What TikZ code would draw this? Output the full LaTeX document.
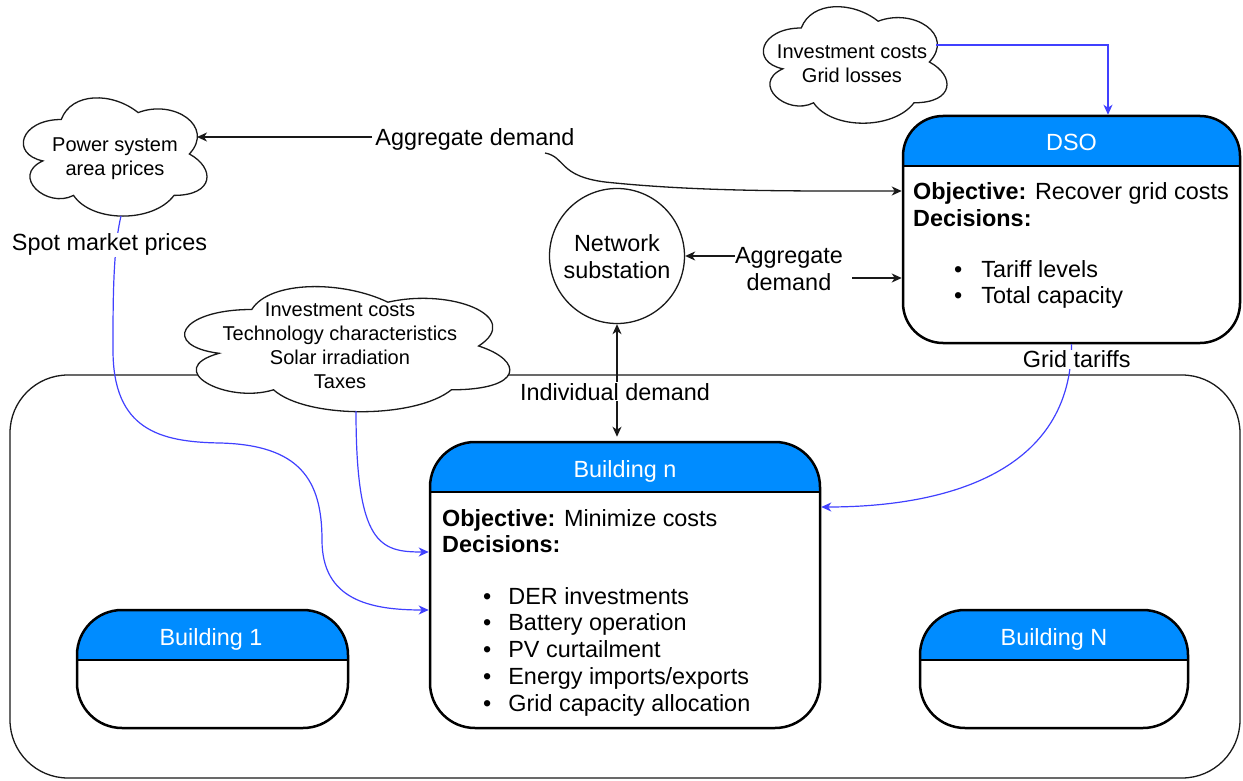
\documentclass[tikz,border=0pt]{standalone}
\usepackage{fontspec}
\setmainfont{Liberation Sans}
\usetikzlibrary{arrows.meta,calc}
\definecolor{hdr}{RGB}{0,140,255}
\definecolor{blu}{RGB}{64,64,255}
\definecolor{edge}{RGB}{25,25,25}
\newcommand\drawcloud[4]{%
\begin{scope}[shift={(#1,#2)},xscale=#3,yscale=#4]
\draw[cloudline] (0.25,0.25) .. controls (0.05,0.25) and (0,0.5) .. (0.16,0.55)
 .. controls (0,0.66) and (0.18,0.9) .. (0.31,0.8)
 .. controls (0.4,1) and (0.7,1) .. (0.8,0.8)
 .. controls (1,0.8) and (1,0.6) .. (0.875,0.5)
 .. controls (1,0.3) and (0.8,0.1) .. (0.625,0.2)
 .. controls (0.5,0.05) and (0.3,0.05) .. (0.25,0.25) -- cycle;
\end{scope}}
\begin{document}
\begin{tikzpicture}[x=1pt,y=-1pt,
  body/.style={font=\fontsize{23.4}{26.8}\selectfont},
  small/.style={font=\fontsize{20}{24.3}\selectfont},
  cloudline/.style={draw=edge,line width=1.3pt,fill=white},
  tip/.style={},
  barr/.style={draw=edge,line width=1.3pt,-{Stealth[length=10pt,width=9pt,inset=3pt]}},
  bboth/.style={draw=edge,line width=1.3pt,{Stealth[length=10pt,width=9pt,inset=3pt]}-{Stealth[length=10pt,width=9pt,inset=3pt]}},
  bl/.style={draw=blu,line width=1.2pt,-{Stealth[length=10pt,width=9pt,inset=3pt]}},
  hbox/.style={draw=black,line width=2.5pt,fill=white,rounded corners=#1,inner sep=0pt,
    path picture={
      \fill[hdr,sharp corners] (path picture bounding box.north west) rectangle ([yshift=-50pt]path picture bounding box.north east);
      \draw[line width=2.5pt,sharp corners] ([yshift=-50pt]path picture bounding box.north west) -- ([yshift=-50pt]path picture bounding box.north east);}},
  lbl/.style={body,fill=white,inner sep=1pt,anchor=base}]
\useasboundingbox (0,0) rectangle (1243,781);

% outer container
\node[draw=edge,line width=1.3pt,rounded corners=58pt,minimum width=1230pt,minimum height=403pt,inner sep=0pt] (outer) at (625,576.5) {};

% clouds
\drawcloud{10}{85}{205}{138}
\drawcloud{750}{-6}{205}{136}
\drawcloud{161}{273}{363}{146}
\node[small,anchor=base,inner sep=0pt] (pwT) at (115,151.5) {\begin{tabular}[t]{@{}c@{}}Power system\\area prices\end{tabular}};
\node[small,anchor=base,inner sep=0pt] (invT) at (852,58.3) {\begin{tabular}[t]{@{}c@{}}Investment costs\\Grid losses\end{tabular}};
\node[small,anchor=base,inner sep=0pt] (techT) at (340,316) {\begin{tabular}[t]{@{}c@{}}Investment costs\\Technology characteristics\\Solar irradiation\\Taxes\end{tabular}};
\coordinate (pwR) at (197,137);
\coordinate (pwB) at (121,216);
\coordinate (inv2R) at (936,45);
\coordinate (techB) at (356,411);

% boxes
\node[hbox=40pt,minimum width=337pt,minimum height=227pt] (dso) at (1071.5,229.5) {};
\node[hbox=45pt,minimum width=390pt,minimum height=286pt] (bn) at (625,585) {};
\node[hbox=45pt,minimum width=271pt,minimum height=118pt] (b1) at (212.5,669) {};
\node[hbox=45pt,minimum width=268pt,minimum height=118pt] (bN) at (1054,669) {};

\node[body,text=white,anchor=base,inner sep=0pt] (dsoT) at (1071.5,151) {DSO};
\node[body,anchor=base west,inner sep=0pt] (dsoB) at (913,200) {\begin{tabular}[t]{@{}l@{}}\textbf{Objective:} Recover grid costs\\\textbf{Decisions:}\end{tabular}};
\node[body,anchor=base west,inner sep=0pt] (dsoL) at (954,277) {\begin{tabular}[t]{@{}l@{\hspace{19pt}}l@{}}•&Tariff levels\\•&Total capacity\end{tabular}};

\node[body,text=white,anchor=base,inner sep=0pt] (bnT) at (625,477) {Building n};
\node[body,anchor=base west,inner sep=0pt] (bnB) at (442,526) {\begin{tabular}[t]{@{}l@{}}\textbf{Objective:} Minimize costs\\\textbf{Decisions:}\end{tabular}};
\node[body,anchor=base west,inner sep=0pt] (bnL) at (483,604) {\begin{tabular}[t]{@{}l@{\hspace{17pt}}l@{}}•&DER investments\\•&Battery operation\\•&PV curtailment\\•&Energy imports/exports\\•&Grid capacity allocation\end{tabular}};

\node[body,text=white,anchor=base,inner sep=0pt] (b1T) at (211,645) {Building 1};
\node[body,text=white,anchor=base,inner sep=0pt] (bNT) at (1054,645) {Building N};

% substation
\node[draw=edge,circle,line width=1.3pt,minimum size=135pt,inner sep=0pt] (sub) at (617,256) {};
\node[body,anchor=base,inner sep=0pt] (subT) at (617,251.7) {\begin{tabular}[t]{@{}c@{}}Network\\substation\end{tabular}};

% black connectors
\node[body,anchor=base,inner sep=0pt] (aggT) at (475,146) {Aggregate demand};
\coordinate (agl) at (372,137);
\coordinate (agc) at (545,153);
\draw[barr] (agl) -- (pwR);
\draw[barr] (agc) .. controls (566,157) and (558,176) .. (605,182) .. controls (700,192) and (800,191) .. (dso.west |- 0,191);

\node[body,anchor=base,inner sep=0pt] (agg2) at (789,263.3) {\begin{tabular}[t]{@{}c@{}}Aggregate\\demand\end{tabular}};
\coordinate (a2l) at (735,256);
\coordinate (a2r) at (852,278);
\draw[barr] (a2l) -- (sub.east);
\draw[barr] (a2r) -- (a2r -| dso.west);

\draw[bboth,shorten >=4pt] (sub.south) -- (sub.south |- bn.north);
\node[lbl] (ind) at (615,400) {Individual demand};

% blue connectors
\draw[bl] (inv2R) -| ([xshift=36.5pt]dso.north);
\draw[bl] (dso.south) .. controls (1072,470) and (950,507) .. ([yshift=78pt]bn.east);
\draw[bl] (techB) .. controls (356,545) and (380,552) .. ([yshift=33pt]bn.west);
\draw[bl] (pwB) .. controls (113,250) and (113,300) .. (113,350)
  .. controls (113,430) and (160,442) .. (220,443)
  .. controls (300,445) and (322,480) .. (322,540)
  .. controls (322,600) and (370,610) .. ([yshift=-25pt]bn.west);
\node[lbl] (spot) at (109.5,251) {Spot market prices};
\node[lbl] (gt) at (1076.7,367.7) {Grid tariffs};
\end{tikzpicture}
\end{document}
